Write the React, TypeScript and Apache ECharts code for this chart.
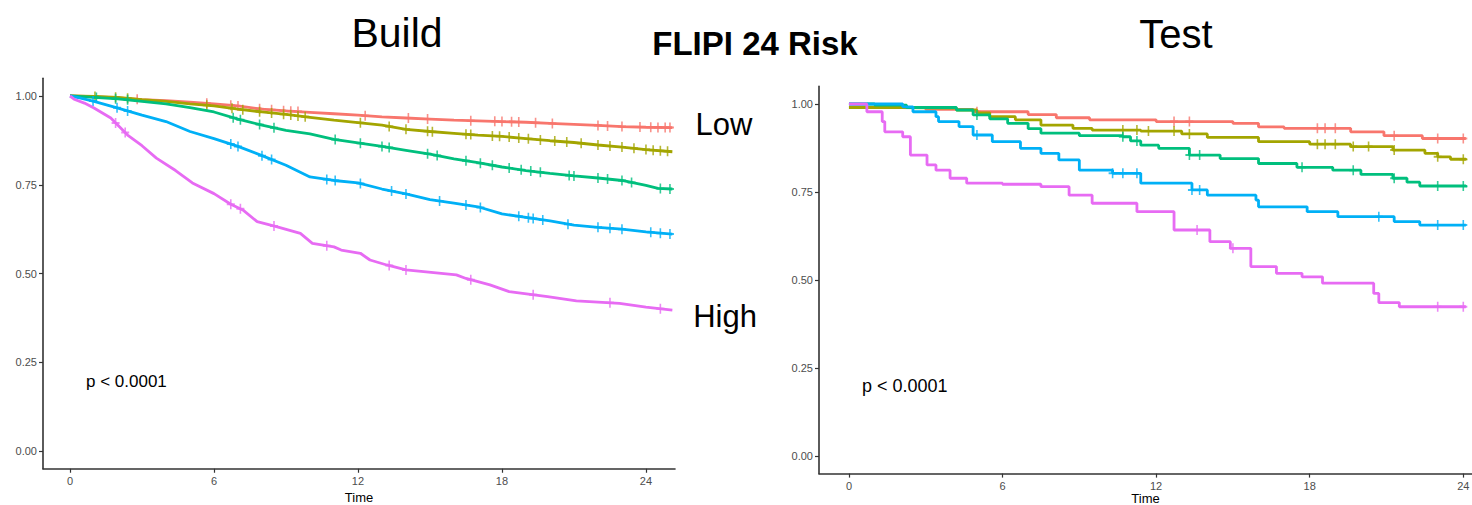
import React, { useEffect, useRef } from "react";
import * as echarts from "echarts";

const colors = ["#F8766D", "#A3A500", "#00BF7D", "#00B0F6", "#E76BF3"];
const xTicks = [0, 6, 12, 18, 24];
const yTicks = [0, 0.25, 0.5, 0.75, 1];

// ---------- Build (left) : [time, survival] ----------
const buildRed = [[0,1],[1,0.998],[2,0.995],[3,0.99],[4,0.987],[5,0.983],[6,0.978],[7,0.972],[8,0.963],[9,0.958],[10,0.954],[11,0.95],[12,0.946],[13,0.941],[14,0.938],[15,0.935],[16,0.932],[17,0.93],[18,0.928],[19,0.926],[20,0.923],[21,0.92],[22,0.917],[23,0.914],[24,0.912],[25.1,0.911]];
const buildOlive = [[0,1],[1,0.999],[2,0.996],[3,0.99],[4,0.985],[5,0.978],[6,0.972],[7,0.963],[8,0.955],[9,0.948],[10,0.94],[11,0.932],[12,0.925],[13,0.918],[14,0.906],[15,0.9],[16,0.895],[17,0.89],[18,0.886],[19,0.88],[20,0.874],[21,0.869],[22,0.862],[23,0.856],[24,0.849],[25.1,0.843]];
const buildGreen = [[0,1],[0.5,0.998],[1,0.996],[2,0.992],[3,0.985],[4,0.978],[5,0.967],[6,0.955],[7,0.935],[8,0.918],[9,0.903],[10,0.893],[11,0.878],[12,0.868],[13,0.858],[14,0.847],[15,0.836],[16,0.823],[17,0.812],[18,0.8],[19,0.79],[20,0.782],[21,0.775],[22,0.769],[23,0.762],[24,0.748],[24.5,0.74],[25.1,0.738]];
const buildBlue = [[0,1],[0.4,0.995],[1,0.985],[2,0.966],[3,0.946],[4,0.928],[5,0.9],[6,0.88],[7,0.858],[8,0.832],[9,0.805],[10,0.772],[11,0.762],[12,0.755],[13,0.738],[14,0.724],[15,0.708],[16,0.698],[17,0.688],[18,0.668],[19,0.658],[20,0.648],[21,0.636],[22,0.63],[23,0.625],[24,0.617],[25.1,0.611]];
const buildPink = [[0,1],[0.2,0.99],[0.6,0.98],[1,0.966],[1.7,0.938],[2.4,0.89],[3,0.86],[3.6,0.825],[4.4,0.79],[5.1,0.755],[6,0.725],[6.7,0.695],[7.2,0.679],[7.8,0.646],[8.6,0.632],[9.6,0.613],[10.1,0.585],[11,0.575],[11.3,0.566],[12.1,0.557],[12.5,0.538],[13.2,0.524],[14,0.51],[16.1,0.496],[16.5,0.486],[17.5,0.468],[18.3,0.449],[19.9,0.435],[21.1,0.423],[22.9,0.416],[24,0.405],[25.1,0.397]];

const buildRedCens = [2.8,5.7,6.7,7.0,7.9,8.4,8.9,9.2,9.5,12.3,14.1,14.9,16.7,17.7,18,18.4,18.7,19.4,20.1,22,22.4,23,23.75,24.2,24.5,24.8,25];
const buildOliveCens = [1.04,1.9,2.4,5.7,6.75,7.2,7.9,8.4,8.9,9.2,9.5,9.8,12.1,13.3,14,14.9,15.1,16.5,16.7,17.6,17.9,18.3,18.7,19.1,19.6,20.2,20.7,21.3,22,22.5,23,23.5,24,24.3,24.6,24.9];
const buildGreenCens = [1.1,1.9,2.4,6.8,7.1,7.9,8.5,11.05,12.1,13,13.3,14.9,15.3,16.5,17.1,17.6,18.3,18.8,19.2,19.6,20.8,21,22,22.4,23,23.4,24.6,25];
const buildBlueCens = [0.96,1.96,2.4,6.7,7.0,8,8.4,10.7,11.05,12.1,13.4,14,15.4,16.5,17.1,18.7,19.1,19.3,19.7,20.75,22,22.5,23,24.2,24.6,25];
const buildPinkCens = [1.9,2.3,6.7,7.1,8.5,10.7,13.3,14,16.7,19.3,22.5,24.6];

// ---------- Test (right) ----------
const testRed = [[0,0.99],[3,0.985],[4.85,0.978],[7,0.97],[8.1,0.961],[9.4,0.955],[12,0.95],[15,0.945],[16,0.935],[17,0.931],[19.6,0.921],[20.9,0.91],[22.4,0.902],[24.1,0.9]];
const testOlive = [[0,0.99],[2,0.988],[4.2,0.983],[5,0.975],[5.5,0.964],[6.5,0.955],[7.5,0.94],[8.75,0.931],[9.5,0.926],[11.4,0.923],[13,0.915],[14,0.905],[16,0.893],[18,0.886],[19.6,0.879],[21.25,0.869],[22.5,0.86],[23,0.85],[23.5,0.843],[24.1,0.84]];
const testGreen = [[0,1],[1,0.997],[2.25,0.99],[4.2,0.983],[4.85,0.969],[5.5,0.958],[6.2,0.945],[7,0.93],[7.5,0.917],[9,0.91],[10.7,0.907],[11,0.895],[11.4,0.883],[12.1,0.874],[13.3,0.855],[14.5,0.845],[16,0.831],[17.5,0.82],[18.9,0.812],[20,0.8],[21.25,0.789],[21.8,0.778],[22.3,0.767],[24.1,0.763]];
const testBlue = [[0,1],[2.1,0.992],[2.5,0.978],[3.4,0.964],[3.5,0.95],[4.3,0.936],[4.85,0.912],[5.6,0.893],[6.7,0.874],[7.5,0.86],[8.2,0.841],[9,0.812],[10.3,0.803],[11.4,0.775],[13.4,0.756],[14,0.741],[15.9,0.727],[16,0.708],[17.9,0.694],[19.1,0.68],[21.3,0.666],[22.3,0.656],[24.1,0.655]];
const testPink = [[0,1],[0.7,0.978],[1.3,0.95],[1.4,0.921],[2.1,0.907],[2.4,0.855],[3.05,0.827],[3.4,0.812],[3.95,0.789],[4.6,0.775],[6,0.772],[7.5,0.765],[8.6,0.741],[9.5,0.718],[11.25,0.694],[12.7,0.642],[14.1,0.609],[14.9,0.59],[15.7,0.538],[16.7,0.519],[17.7,0.509],[18.5,0.491],[20.5,0.462],[20.7,0.436],[21.5,0.424],[24.1,0.424]];

const testRedCens = [5.0,12.7,13.3,18.3,18.6,19,21.3,23,24];
const testOliveCens = [10.7,11.25,11.7,12.7,13.3,18.3,18.6,19,19.7,20.3,21.3,23,24];
const testGreenCens = [5.0,10.7,11.25,13.3,13.7,17.7,19.7,21.3,23,24];
const testBlueCens = [5.0,10.3,10.7,11.25,13.4,13.7,20.7,23,24];
const testPinkCens = [13.6,15,23,24];

const buildCurves = [buildRed, buildOlive, buildGreen, buildBlue, buildPink];
const buildCens = [buildRedCens, buildOliveCens, buildGreenCens, buildBlueCens, buildPinkCens];
const testCurves = [testRed, testOlive, testGreen, testBlue, testPink];
const testCens = [testRedCens, testOliveCens, testGreenCens, testBlueCens, testPinkCens];

const FONT = "Liberation Sans, Arial, sans-serif";
const PLUS = "path://M4,0H6V4H10V6H6V10H4V6H0V4H4Z";

function stepAt(curve: number[][], t: number, stepped: boolean) {
  for (let i = 0; i < curve.length - 1; i++) {
    const a = curve[i], b = curve[i + 1];
    if (t >= a[0] && t < b[0]) {
      if (stepped) return a[1];
      return a[1] + ((b[1] - a[1]) * (t - a[0])) / (b[0] - a[0]);
    }
  }
  return curve[curve.length - 1][1];
}

function makeAxes(idx: number, xmin: number, xmax: number, nameGap: number) {
  const x = {
    type: "value",
    gridIndex: idx,
    min: xmin,
    max: xmax,
    name: "Time",
    nameLocation: "middle",
    nameGap,
    nameMoveOverlap: false,
    nameTextStyle: { color: "#000", fontSize: 13, lineHeight: 13, fontFamily: FONT },
    axisLine: { show: true, onZero: false, lineStyle: { color: "#333", width: 1.6 } },
    axisTick: { show: true, length: 4, customValues: xTicks, lineStyle: { color: "#333", width: 1.2 } },
    axisLabel: { customValues: xTicks, color: "#4d4d4d", fontSize: 11, fontFamily: FONT, margin: 7 },
    splitLine: { show: false },
  };
  const y = {
    type: "value",
    gridIndex: idx,
    min: -0.05,
    max: 1.05,
    axisLine: { show: true, onZero: false, lineStyle: { color: "#333", width: 1.6 } },
    axisTick: { show: true, length: 4, customValues: yTicks, lineStyle: { color: "#333", width: 1.2 } },
    axisLabel: {
      customValues: yTicks,
      color: "#4d4d4d",
      fontSize: 11,
      fontFamily: FONT,
      margin: 6,
      formatter: (v: number) => v.toFixed(2),
    },
    splitLine: { show: false },
  };
  return { x, y };
}

function makeSeries(idx: number, curves: number[][][], cens: number[][], stepped: boolean) {
  const out: any[] = [];
  curves.forEach((c, i) => {
    out.push({
      type: "line",
      xAxisIndex: idx,
      yAxisIndex: idx,
      data: c,
      step: stepped ? "end" : false,
      showSymbol: false,
      symbol: "none",
      lineStyle: { color: colors[i], width: 2.8 },
      z: 2 + i,
      silent: true,
    });
    out.push({
      type: "scatter",
      xAxisIndex: idx,
      yAxisIndex: idx,
      data: cens[i].map((t) => [t, stepAt(c, t, stepped)]),
      symbol: PLUS,
      symbolSize: [8, 10],
      itemStyle: { color: colors[i] },
      z: 2 + i,
      silent: true,
    });
  });
  return out;
}

export default function App() {
  const ref = useRef<HTMLDivElement>(null);
  useEffect(() => {
    document.body.style.margin = "0";
    if (!ref.current) return;
    const chart = echarts.init(ref.current, undefined, { renderer: "svg" });
    const a0 = makeAxes(0, -1.125, 25.21, 22);
    const a1 = makeAxes(1, -1.17, 24.34, 18);
    const option: any = {
      animation: false,
      backgroundColor: "#fff",
      grid: [
        { left: 43, top: 78.25, width: 632, height: 390.5, containLabel: false, outerBoundsMode: "none" },
        { left: 819, top: 86.4, width: 653, height: 387.2, containLabel: false, outerBoundsMode: "none" },
      ],
      xAxis: [a0.x, a1.x],
      yAxis: [a0.y, a1.y],
      series: [...makeSeries(0, buildCurves, buildCens, false), ...makeSeries(1, testCurves, testCens, true)],
      graphic: [
        { type: "text", x: 397, y: 33, style: { text: "Build", font: `41px ${FONT}`, fill: "#000", textAlign: "center", textVerticalAlign: "middle" } },
        { type: "text", x: 1176, y: 34, style: { text: "Test", font: `40px ${FONT}`, fill: "#000", textAlign: "center", textVerticalAlign: "middle" } },
        { type: "text", x: 755, y: 43, style: { text: "FLIPI 24 Risk", font: `bold 33px ${FONT}`, fill: "#000", textAlign: "center", textVerticalAlign: "middle" } },
        { type: "text", x: 724, y: 124, style: { text: "Low", font: `31px ${FONT}`, fill: "#000", textAlign: "center", textVerticalAlign: "middle" } },
        { type: "text", x: 725, y: 316, style: { text: "High", font: `31px ${FONT}`, fill: "#000", textAlign: "center", textVerticalAlign: "middle" } },
        { type: "text", x: 86, y: 381, style: { text: "p < 0.0001", font: `17px ${FONT}`, fill: "#000", textAlign: "left", textVerticalAlign: "middle" } },
        { type: "text", x: 862, y: 386, style: { text: "p < 0.0001", font: `18px ${FONT}`, fill: "#000", textAlign: "left", textVerticalAlign: "middle" } },
      ],
    };
    chart.setOption(option);
    return () => chart.dispose();
  }, []);
  return (
    <div
      ref={ref}
      style={{ position: "absolute", left: 0, top: 0, width: 1472, height: 505, background: "#fff" }}
    />
  );
}
